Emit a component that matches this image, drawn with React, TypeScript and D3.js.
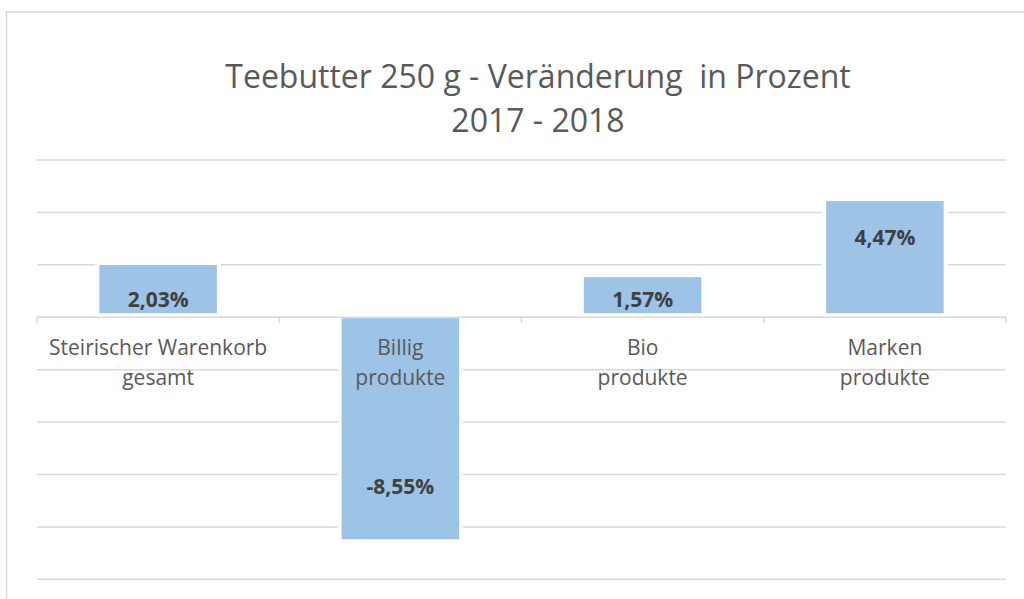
import React from "react";
import * as d3 from "d3";

const categories: string[][] = [
  ["Steirischer Warenkorb", "gesamt"],
  ["Billig", "produkte"],
  ["Bio", "produkte"],
  ["Marken", "produkte"],
];
const values: number[] = [2.03, -8.55, 1.57, 4.47];
const valueLabels: string[] = ["2,03%", "-8,55%", "1,57%", "4,47%"];
const yTicks: number[] = [6, 4, 2, 0, -2, -4, -6, -8, -10];
const titleLines: string[] = ["Teebutter 250 g - Veränderung\u00a0 in Prozent", "2017 - 2018"];

const W = 1024;
const H = 599;
const FONT = "'Open Sans', 'Segoe UI', sans-serif";

export default function App() {
  const x = d3
    .scaleBand<number>()
    .domain(d3.range(categories.length))
    .range([37, 1006])
    .padding(0);
  const y = d3.scaleLinear().domain([-10, 6]).range([579.3, 160]);
  const step = x.bandwidth();
  const barW = step * 0.485;
  const y0 = y(0);

  return (
    <div style={{ position: "absolute", left: 0, top: 0 }}>
      <svg width={W} height={H} style={{ display: "block", background: "#fff" }}>
        <rect x={6.5} y={12} width={W + 20} height={H + 20} fill="#fff" stroke="#d9d9d9" strokeWidth={1.5} />
        {titleLines.map((t, i) => (
          <text
            key={i}
            x={538}
            y={88 + i * 44}
            textAnchor="middle"
            fontFamily={FONT}
            fontSize={32}
            fill="#595959"
          >
            {t}
          </text>
        ))}
        {yTicks.map((t) => (
          <line key={t} x1={37} x2={1006} y1={y(t)} y2={y(t)} stroke="#d9d9d9" strokeWidth={1.5} />
        ))}
        {values.map((v, i) => {
          const cx = (x(i) as number) + step / 2;
          const top = Math.min(y(v), y0);
          const h = Math.abs(y(v) - y0);
          return (
            <g key={i}>
              <rect x={cx - barW / 2 - 4} y={top - 4} width={barW + 8} height={h + 8} fill="#fff" />
              <rect x={cx - barW / 2} y={v >= 0 ? top + 1 : top + 1} width={barW} height={v >= 0 ? h - 5 : h - 3} fill="#9dc3e6" />
            </g>
          );
        })}
        <line x1={37} x2={1006} y1={y0} y2={y0} stroke="#d9d9d9" strokeWidth={1.5} />
        {d3.range(categories.length + 1).map((i) => {
          const xx = 37 + i * step;
          return <line key={i} x1={xx} x2={xx} y1={y0} y2={y0 + 6} stroke="#d9d9d9" strokeWidth={1.5} />;
        })}
        {values.map((v, i) => {
          const cx = (x(i) as number) + step / 2;
          const ly = v >= 0 ? Math.min(y(v) + 38, y0 - 18) : y(v) - 55;
          return (
            <text
              key={i}
              x={cx}
              y={ly}
              dy="0.35em"
              textAnchor="middle"
              fontFamily={FONT}
              fontSize={21}
              fontWeight="bold"
              fill="#404040"
            >
              {valueLabels[i]}
            </text>
          );
        })}
        {categories.map((lines, i) => {
          const cx = (x(i) as number) + step / 2;
          return (
            <text key={i} textAnchor="middle" fontFamily={FONT} fontSize={21} fill="#595959">
              {lines.map((l, j) => (
                <tspan key={j} x={cx} y={355 + j * 30}>
                  {l}
                </tspan>
              ))}
            </text>
          );
        })}
      </svg>
    </div>
  );
}
